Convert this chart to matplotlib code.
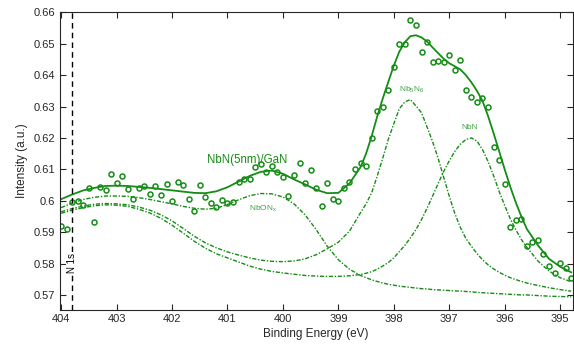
import matplotlib
matplotlib.use("Agg")
import matplotlib.pyplot as plt
from matplotlib.ticker import FuncFormatter, MultipleLocator

plt.rcParams['font.family'] = ['Liberation Sans', 'DejaVu Sans']

# measured spectrum (Binding energy, intensity)
be_data = [404.0, 403.9, 403.8, 403.7, 403.6, 403.5, 403.4, 403.3, 403.2, 403.1,
           403.0, 402.9, 402.8, 402.7, 402.6, 402.5, 402.4, 402.3, 402.2, 402.1,
           402.0, 401.9, 401.8, 401.7, 401.6, 401.5, 401.4, 401.3, 401.2, 401.1,
           401.0, 400.9, 400.8, 400.7, 400.6, 400.5, 400.4, 400.3, 400.2, 400.1,
           400.0, 399.9, 399.8, 399.7, 399.6, 399.5, 399.4, 399.3, 399.2, 399.1,
           399.0, 398.9, 398.8, 398.7, 398.6, 398.5, 398.4, 398.3, 398.2, 398.1,
           398.0, 397.9, 397.8, 397.7, 397.6, 397.5, 397.4, 397.3, 397.2, 397.1,
           397.0, 396.9, 396.8, 396.7, 396.6, 396.5, 396.4, 396.3, 396.2, 396.1,
           396.0, 395.9, 395.8, 395.7, 395.6, 395.5, 395.4, 395.3, 395.2, 395.1,
           395.0, 394.9, 394.8]
intensity = [0.5918, 0.5909, 0.5997, 0.6000, 0.5987, 0.6039, 0.5932, 0.6044, 0.6035, 0.6084,
             0.6056, 0.6079, 0.6038, 0.6007, 0.6039, 0.6046, 0.6022, 0.6046, 0.6019, 0.6054,
             0.5999, 0.6061, 0.6049, 0.6006, 0.5968, 0.6050, 0.6013, 0.5992, 0.5981, 0.6003,
             0.5993, 0.5995, 0.6060, 0.6070, 0.6069, 0.6109, 0.6118, 0.6093, 0.6112, 0.6091,
             0.6074, 0.6015, 0.6083, 0.6120, 0.6056, 0.6097, 0.6041, 0.5983, 0.6056, 0.6007,
             0.5998, 0.6039, 0.6059, 0.6100, 0.6121, 0.6111, 0.6200, 0.6287, 0.6300, 0.6353,
             0.6425, 0.6498, 0.6500, 0.6574, 0.6559, 0.6474, 0.6506, 0.6441, 0.6446, 0.6442,
             0.6463, 0.6417, 0.6448, 0.6352, 0.6331, 0.6314, 0.6326, 0.6299, 0.6171, 0.6129,
             0.6054, 0.5916, 0.5939, 0.5942, 0.5856, 0.5869, 0.5875, 0.5831, 0.5791, 0.5770,
             0.5801, 0.5787, 0.5754]

# fitted curves (finer steps around the peaks)
be_fit = [404.0, 403.8, 403.6, 403.4, 403.2, 403.0, 402.8, 402.6, 402.4, 402.2,
          402.0, 401.8, 401.6, 401.4, 401.2, 401.0, 400.8, 400.6, 400.4, 400.2,
          400.0, 399.8, 399.6, 399.4, 399.2, 399.0, 398.8, 398.6,
          398.5, 398.4, 398.3, 398.2, 398.1, 398.0, 397.9, 397.8, 397.7, 397.6,
          397.5, 397.4, 397.3, 397.2, 397.1, 397.0, 396.9, 396.8, 396.7, 396.6,
          396.5, 396.4, 396.3, 396.2, 396.1, 396.0, 395.9, 395.8, 395.7, 395.6,
          395.4, 395.2, 395.0, 394.8]
envelope = [0.6005, 0.6020, 0.6033, 0.6041, 0.6047, 0.6048, 0.6047, 0.6044, 0.6041, 0.6037,
            0.6033, 0.6029, 0.6025, 0.6024, 0.6030, 0.6043, 0.6061, 0.6079, 0.6092, 0.6096,
            0.6086, 0.6068, 0.6052, 0.6035, 0.6024, 0.6025, 0.6055, 0.6107,
            0.6150, 0.6205, 0.6268, 0.6325, 0.6378, 0.6430, 0.6475, 0.6505, 0.6524, 0.6527,
            0.6520, 0.6507, 0.6488, 0.6470, 0.6452, 0.6438, 0.6428, 0.6418, 0.6400, 0.6377,
            0.6350, 0.6318, 0.6270, 0.6215, 0.6158, 0.6100, 0.6045, 0.5995, 0.5950, 0.5910,
            0.5858, 0.5815, 0.5790, 0.5772]
nbonx = [0.5978, 0.5993, 0.6004, 0.6011, 0.6015, 0.6015, 0.6014, 0.6010, 0.6004, 0.5997,
         0.5990, 0.5982, 0.5976, 0.5973, 0.5976, 0.5988, 0.6003, 0.6016, 0.6023, 0.6022,
         0.6012, 0.5990, 0.5955, 0.5908, 0.5855, 0.5812, 0.5782, 0.5762,
         0.5755, 0.5748, 0.5743, 0.5738, 0.5734, 0.5731, 0.5728, 0.5726, 0.5724, 0.5722,
         0.5720, 0.5719, 0.5717, 0.5716, 0.5715, 0.5714, 0.5713, 0.5712, 0.5711, 0.5710,
         0.5708, 0.5707, 0.5706, 0.5705, 0.5704, 0.5703, 0.5702, 0.5701, 0.5700, 0.5700,
         0.5698, 0.5696, 0.5695, 0.5694]
nb5n6 = [0.5965, 0.5975, 0.5983, 0.5989, 0.5991, 0.5990, 0.5987, 0.5980, 0.5970, 0.5955,
         0.5936, 0.5912, 0.5887, 0.5866, 0.5850, 0.5837, 0.5827, 0.5818, 0.5811, 0.5807,
         0.5806, 0.5808, 0.5815, 0.5828, 0.5847, 0.5868, 0.5903, 0.5962,
         0.5990, 0.6025, 0.6078, 0.6135, 0.6195, 0.6245, 0.6293, 0.6315, 0.6322, 0.6302,
         0.6280, 0.6235, 0.6188, 0.6135, 0.6075, 0.6015, 0.5960, 0.5915, 0.5880, 0.5855,
         0.5832, 0.5812, 0.5796, 0.5783, 0.5772, 0.5763, 0.5755, 0.5749, 0.5743, 0.5738,
         0.5730, 0.5723, 0.5717, 0.5712]
nbn = [0.5960, 0.5970, 0.5978, 0.5984, 0.5987, 0.5986, 0.5982, 0.5973, 0.5961, 0.5944,
       0.5922, 0.5897, 0.5871, 0.5849, 0.5831, 0.5818, 0.5805, 0.5792, 0.5782, 0.5775,
       0.5770, 0.5766, 0.5762, 0.5760, 0.5759, 0.5759, 0.5761, 0.5765,
       0.5769, 0.5774, 0.5782, 0.5792, 0.5803, 0.5818, 0.5838, 0.5858, 0.5882, 0.5908,
       0.5940, 0.5976, 0.6015, 0.6055, 0.6093, 0.6127, 0.6157, 0.6180, 0.6195, 0.6200,
       0.6190, 0.6163, 0.6125, 0.6080, 0.6030, 0.5985, 0.5943, 0.5908, 0.5877, 0.5852,
       0.5808, 0.5776, 0.5755, 0.5742]

n1s_position = 403.8
x_ticks = [404, 403, 402, 401, 400, 399, 398, 397, 396, 395]

green = '#158c15'
label_green = '#3f9f3f'
axis_col = '#262626'

fig = plt.figure(figsize=(5.74, 3.47), dpi=100)
ax = fig.add_axes([0.1037, 0.1066, 0.8943, 0.8588])

dashdot = (0, (3.0, 1.2, 1.0, 1.2))
ax.plot(be_fit, nbonx, color=green, lw=1.0, ls=dashdot)
ax.plot(be_fit, nb5n6, color=green, lw=1.0, ls=dashdot)
ax.plot(be_fit, nbn, color=green, lw=1.0, ls=dashdot)
ax.plot(be_fit, envelope, color=green, lw=1.3, ls='-')
ax.plot(be_data, intensity, ls='none', marker='o', ms=3.6, mfc='none',
        mec=green, mew=1.1)

ax.axvline(n1s_position, color='black', lw=1.0, ls=(0, (4, 3)))
ax.text(n1s_position, 0.5803, 'N 1s', rotation=90, ha='center', va='center',
        fontsize=7, color='black',
        bbox=dict(facecolor='white', edgecolor='none', pad=0.6))

ax.text(400.65, 0.6129, 'NbN(5nm)/GaN', color=green, fontsize=8.3,
        ha='center', va='center')
ax.text(400.36, 0.5976, 'NbON$_\\mathregular{x}$', color=label_green, fontsize=6,
        ha='center', va='center')
ax.text(397.68, 0.6355, 'Nb$_\\mathregular{5}$N$_\\mathregular{6}$', color=label_green,
        fontsize=6, ha='center', va='center')
ax.text(396.64, 0.6232, 'NbN', color=label_green, fontsize=6,
        ha='center', va='center')

ax.set_xlim(404.03, 394.77)
ax.set_ylim(0.5652, 0.6601)
ax.set_xticks(x_ticks)
ax.yaxis.set_major_locator(MultipleLocator(0.01))
ax.yaxis.set_major_formatter(FuncFormatter(lambda v, p: f"{round(v, 4):g}"))
ax.tick_params(direction='in', top=True, right=True, length=4, width=0.8,
               labelsize=8, colors=axis_col, pad=3)
for s in ax.spines.values():
    s.set_color(axis_col)
    s.set_linewidth(0.8)

ax.set_xlabel('Binding Energy (eV)', fontsize=8.5, color=axis_col, labelpad=3)
ax.set_ylabel('Intensity (a.u.)', fontsize=8.5, color=axis_col, labelpad=4)

fig.savefig('out.png', dpi=100)
